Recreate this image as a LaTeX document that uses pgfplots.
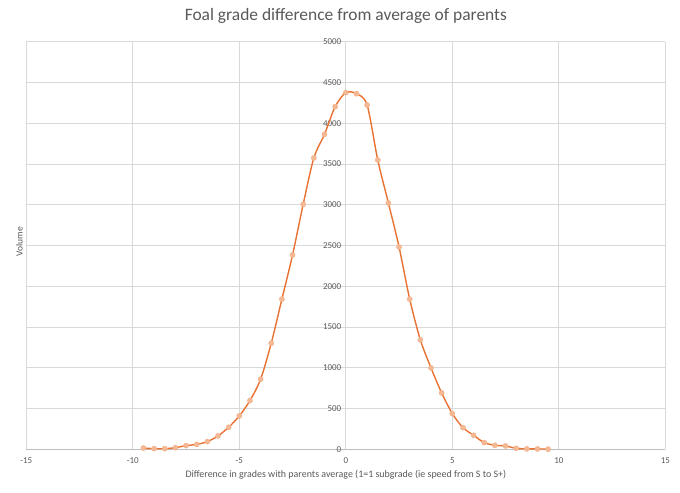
\documentclass[border=0pt]{standalone}
\usepackage{pgfplots}
\pgfplotsset{compat=1.18}
\usepackage{fontspec}
\setmainfont{Carlito}
\definecolor{txt}{HTML}{595959}
\definecolor{gridc}{HTML}{D9D9D9}
\definecolor{axc}{HTML}{BFBFBF}
\definecolor{lineor}{HTML}{E97132}
\definecolor{markor}{HTML}{F4B894}
\begin{document}
\begin{tikzpicture}
\useasboundingbox (-26.3bp,-43.7bp) rectangle (653.7bp,449.3bp);
\begin{axis}[
  at={(0,0)}, anchor=south west,
  scale only axis, width=639bp, height=407.6bp,
  xmin=-15, xmax=15, ymin=0, ymax=5000,
  axis lines=middle,
  axis line style={-, draw=gridc, line width=0.75bp},
  x axis line style={draw=axc},
  hide obscured x ticks=false, hide obscured y ticks=false,
  xtick={-15,-10,...,15}, ytick={0,500,...,5000},
  major tick length=0pt,
  grid=major, major grid style={draw=gridc, line width=0.75bp},
  tick label style={font=\fontsize{9}{10}\selectfont, text=txt},
  /pgf/number format/assume math mode=true,
  /pgf/number format/1000 sep={},
  xticklabel style={yshift=-5bp},
  yticklabel style={xshift=-1bp},
  xlabel={Difference in grades with parents average (1=1 subgrade (ie speed from S to S+)},
  ylabel={Volume},
  xlabel style={font=\fontsize{10}{12}\selectfont, text=txt, at={(axis description cs:0.5,0)}, anchor=center, yshift=-25.7bp},
  ylabel style={font=\fontsize{9.5}{11}\selectfont, text=txt, at={(axis description cs:0,0.5)}, anchor=center, rotate=90, xshift=4bp, yshift=7bp},
  title={Foal grade difference from average of parents},
  title style={font=\fontsize{17.5}{20}\selectfont, text=txt, at={(axis description cs:0.5,1)}, anchor=center, yshift=20bp},
  clip=false,
]
\addplot[color=lineor, line width=1.4bp, smooth, tension=0.5,
  mark=*, mark size=2.6bp, mark options={fill=markor, draw=markor!90!lineor, line width=0.4bp}]
coordinates {
(-9.5,15) (-9,8) (-8.5,8) (-8,20) (-7.5,45) (-7,60) (-6.5,94) (-6,164)
(-5.5,270) (-5,409) (-4.5,598) (-4,860) (-3.5,1302) (-3,1842) (-2.5,2384)
(-2,3006) (-1.5,3574) (-1,3864) (-0.5,4203) (0,4375) (0.5,4362) (1,4223)
(1.5,3549) (2,3022) (2.5,2482) (3,1842) (3.5,1343) (4,999) (4.5,692)
(5,438) (5.5,266) (6,172) (6.5,82) (7,49) (7.5,41) (8,12) (8.5,5) (9,5) (9.5,2)
};
\end{axis}
\end{tikzpicture}
\end{document}
